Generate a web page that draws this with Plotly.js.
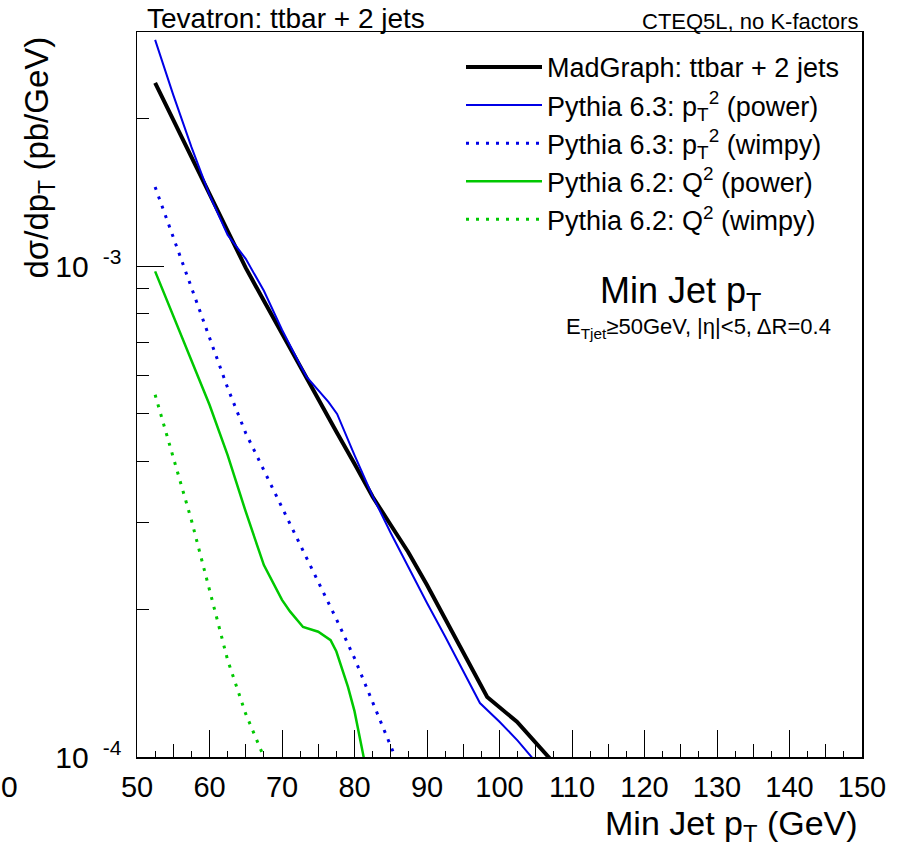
<!DOCTYPE html>
<html>
<head>
<meta charset="utf-8">
<script src="https://cdn.plot.ly/plotly-3.0.1.min.js"></script>
<style>html,body{margin:0;padding:0;background:#fff;}</style>
</head>
<body>
<div id="chart" style="width:900px;height:850px;"></div>
<script>
// ---- data ----
const madX = [52.5,55,57.5,60,62.5,65,67.5,70,72.5,75,77.5,80,82.5,85,87.4,90,92.5,95,96.9,98.3,102.4,106.5,108];
const madY = [2.364e-3,1.987e-3,1.670e-3,1.404e-3,1.180e-3,0.992e-3,8.50e-4,7.28e-4,6.26e-4,5.37e-4,4.60e-4,3.96e-4,3.39e-4,2.97e-4,2.617e-4,2.24e-4,1.91e-4,1.64e-4,1.449e-4,1.325e-4,1.18e-4,1.009e-4,0.954e-4];

const py63PowerX = [52.5,55,57.5,60,62.5,65,67.5,70,72.5,73.4,76.4,77.6,80,82.5,85,87.5,90,92.5,95,97.3,100,102.5,105];
const py63PowerY = [2.891e-3,2.234e-3,1.750e-3,1.397e-3,1.158e-3,1.035e-3,8.91e-4,7.42e-4,6.29e-4,5.95e-4,5.29e-4,5.00e-4,4.12e-4,3.40e-4,2.86e-4,2.42e-4,2.06e-4,1.76e-4,1.49e-4,1.288e-4,1.18e-4,1.08e-4,0.977e-4];

const py63WimpyX = [52.5,55,57.5,60,62.5,65,67.5,70,72.5,75,77.5,80,82.5,85,87.5];
const py63WimpyY = [1.450e-3,1.147e-3,9.03e-4,7.14e-4,5.65e-4,4.57e-4,3.84e-4,3.22e-4,2.70e-4,2.27e-4,1.91e-4,1.59e-4,1.29e-4,1.048e-4,0.856e-4];

const py62PowerX = [52.5,55,57.5,60,62.5,65,67.5,70,71.1,72.9,75,76.7,77.5,79.1,80,81.2,82.5];
const py62PowerY = [9.76e-4,7.92e-4,6.44e-4,5.22e-4,4.12e-4,3.16e-4,2.46e-4,2.09e-4,1.98e-4,1.84e-4,1.80e-4,1.73e-4,1.64e-4,1.39e-4,1.24e-4,1.01e-4,0.81e-4];

const py62WimpyX = [52.5,55,57.5,60,62.5,65,67.5,70];
const py62WimpyY = [5.47e-4,4.09e-4,3.04e-4,2.19e-4,1.576e-4,1.224e-4,0.995e-4,0.817e-4];

const seriesNames = [
  'MadGraph: ttbar + 2 jets',
  'Pythia 6.3: p<sub>T</sub><sup>2</sup> (power)',
  'Pythia 6.3: p<sub>T</sub><sup>2</sup> (wimpy)',
  'Pythia 6.2: Q<sup>2</sup> (power)',
  'Pythia 6.2: Q<sup>2</sup> (wimpy)'
];

const yTickVals = [1e-4, 1e-3];
const yTickText = ['10&nbsp;<sup>&nbsp;-4</sup>', '10&nbsp;<sup>&nbsp;-3</sup>'];
const yMinorVals = [2e-4,3e-4,4e-4,5e-4,6e-4,7e-4,8e-4,9e-4,2e-3,3e-3];

// ---- styling ----
const FONT = 'Liberation Sans, Arial, Helvetica, sans-serif';
const BLUE = '#0000e6';
const GREEN = '#00c800';

const traces = [
  {x: madX, y: madY, name: seriesNames[0], mode: 'lines', legendgroup:'a',
   line: {color: '#000000', width: 4}},
  {x: py63PowerX, y: py63PowerY, name: seriesNames[1], mode: 'lines', legendgroup:'b',
   line: {color: BLUE, width: 2}},
  {x: py63WimpyX, y: py63WimpyY, name: seriesNames[2], mode: 'lines', legendgroup:'c',
   line: {color: BLUE, width: 3, dash: '3px,7px'}},
  {x: py62PowerX, y: py62PowerY, name: seriesNames[3], mode: 'lines', legendgroup:'d',
   line: {color: GREEN, width: 2.5}},
  {x: py62WimpyX, y: py62WimpyY, name: seriesNames[4], mode: 'lines', legendgroup:'e',
   line: {color: GREEN, width: 3, dash: '3px,7px'}},
  {x: [], y: [], xaxis: 'x2', yaxis: 'y', showlegend: false, hoverinfo: 'skip', mode: 'lines'}
];

const layout = {
  width: 900, height: 850,
  margin: {l: 137, r: 38, t: 32, b: 93},
  paper_bgcolor: '#ffffff', plot_bgcolor: '#ffffff',
  font: {family: FONT, color: '#000000'},
  showlegend: true,
  xaxis: {
    range: [50, 150], tickmode: 'linear', tick0: 0, dtick: 10,
    ticks: 'inside', ticklen: 27, tickwidth: 1, tickcolor: '#000',
    minor: {tickmode: 'linear', tick0: 0, dtick: 5, ticks: 'inside', ticklen: 13, tickwidth: 1, tickcolor: '#000', showgrid: false},
    showline: true, linecolor: '#000', linewidth: 1.5, mirror: true,
    showgrid: false, zeroline: false,
    tickfont: {size: 29, family: FONT}, ticklabelstandoff: 4
  },
  xaxis2: {
    overlaying: 'x', anchor: 'y', side: 'bottom',
    range: [50, 150], tickmode: 'linear', tick0: 0, dtick: 2.5,
    ticks: 'inside', ticklen: 6, tickwidth: 1, tickcolor: '#000',
    showticklabels: false, showgrid: false, zeroline: false, showline: false
  },
  yaxis: {
    type: 'log', range: [-4, Math.log10(3e-3)],
    tickmode: 'array', tickvals: yTickVals, ticktext: yTickText,
    ticks: 'inside', ticklen: 27, tickwidth: 1, tickcolor: '#000',
    minor: {tickmode: 'array', tickvals: yMinorVals, ticks: 'inside', ticklen: 12, tickwidth: 1, tickcolor: '#000', showgrid: false},
    showline: true, linecolor: '#000', linewidth: 1.5, mirror: true,
    showgrid: false, zeroline: false,
    tickfont: {size: 30, family: FONT}, ticklabelstandoff: 8
  },
  legend: {
    x: 0.4469, y: 0.985, xanchor: 'left', yanchor: 'top',
    bgcolor: 'rgba(0,0,0,0)', borderwidth: 0,
    font: {size: 27, family: FONT}, tracegroupgap: 0, itemwidth: 76
  },
  annotations: [
    {text: 'Tevatron: ttbar + 2 jets', xref: 'paper', yref: 'paper', x: 0.011, y: 1.0193,
     xanchor: 'left', yanchor: 'middle', showarrow: false, font: {size: 28, family: FONT}},
    {text: 'CTEQ5L, no K-factors', xref: 'paper', yref: 'paper', x: 0.9972, y: 1.0138,
     xanchor: 'right', yanchor: 'middle', showarrow: false, font: {size: 22, family: FONT}},
    {text: 'Min Jet p<sub>T</sub>', xref: 'paper', yref: 'paper', x: 0.749, y: 0.640,
     xanchor: 'center', yanchor: 'middle', showarrow: false, font: {size: 36, family: FONT}},
    {text: 'E<sub>Tjet</sub>≥50GeV, |η|&lt;5, ΔR=0.4', xref: 'paper', yref: 'paper', x: 0.775, y: 0.592,
     xanchor: 'center', yanchor: 'middle', showarrow: false, font: {size: 22, family: FONT}},
    {text: 'Min Jet p<sub>T</sub> (GeV)', xref: 'paper', yref: 'paper', x: 0.9972, y: -0.0938,
     xanchor: 'right', yanchor: 'middle', showarrow: false, font: {size: 34, family: FONT}},
    {text: 'dσ/dp<sub>T</sub> (pb/GeV)', xref: 'paper', yref: 'paper', x: -0.1338, y: 0.8269,
     xanchor: 'center', yanchor: 'middle', textangle: -90, showarrow: false, font: {size: 33, family: FONT}},
    {text: '0', xref: 'paper', yref: 'paper', x: -0.1752, y: -0.04,
     xanchor: 'center', yanchor: 'middle', showarrow: false, font: {size: 30, family: FONT}}
  ]
};

Plotly.newPlot('chart', traces, layout, {displayModeBar: false, staticPlot: true});
</script>
</body>
</html>
